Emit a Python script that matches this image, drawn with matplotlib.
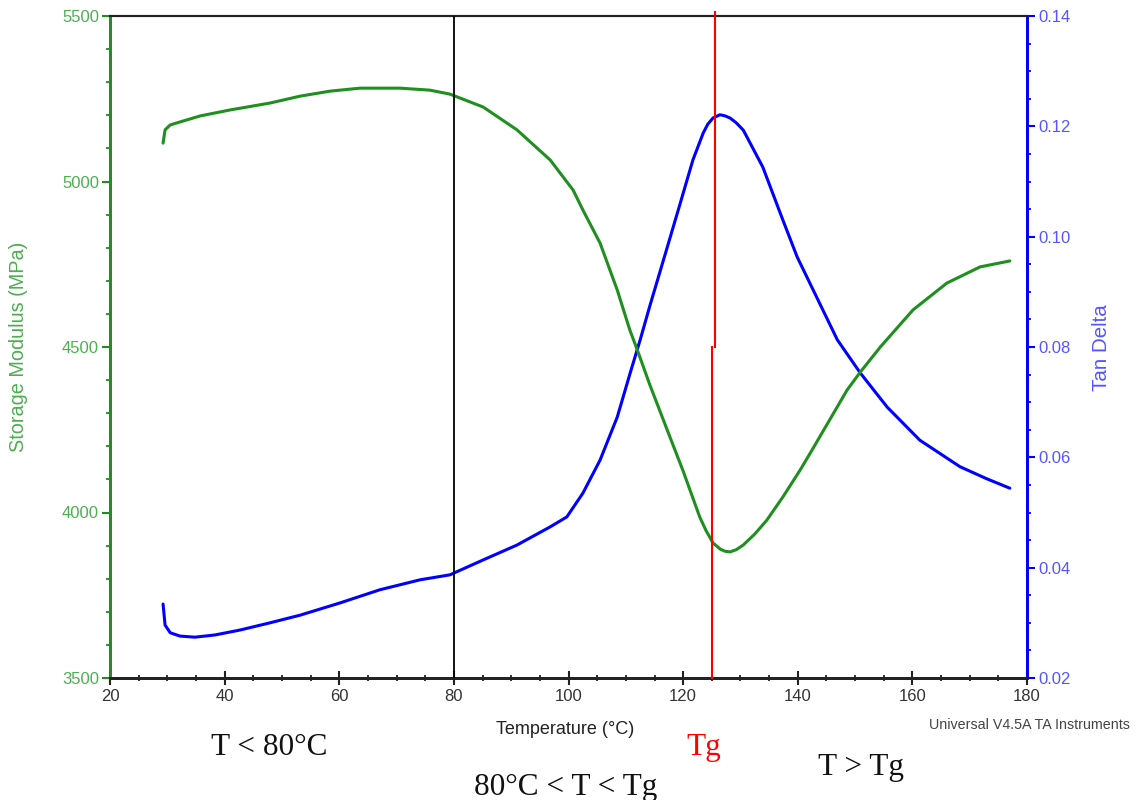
#!/usr/bin/env python3
"""DMA scan: storage modulus and tan delta against temperature."""

import matplotlib
matplotlib.use('Agg')
import matplotlib.pyplot as plt
import matplotlib.ticker as ticker

# ── Data ────────────────────────────────────────────────────────────────────────
MOD_T = [29.25, 29.6, 30.5, 35.7, 40.9, 47.9, 53.2, 58.4, 63.6, 70.6, 75.8, 79.3,
         85.1, 91.0, 96.8, 100.8, 102.5, 105.5, 108.5, 110.7, 112.0, 114.2,
         117.2, 120.0, 122.9, 124.0, 125.2, 126.5, 127.3, 128.2, 129.3, 130.5,
         132.5, 134.6, 137.4, 140.4, 142.7, 148.6, 150.9, 154.4, 160.1, 166.0,
         171.8, 177.0]
MOD_E = [5116, 5156, 5171, 5198, 5216, 5237, 5258, 5273, 5282, 5282, 5276, 5264,
         5225, 5156, 5065, 4974, 4914, 4814, 4672, 4551, 4491, 4385,
         4250, 4125, 3986, 3945, 3908, 3889, 3883, 3881, 3888, 3902,
         3935, 3977, 4047, 4128, 4195, 4370, 4424, 4500, 4612, 4693,
         4742, 4760]

TAN_T = [29.25, 29.6, 30.5, 32.2, 34.8, 38.3, 42.7, 47.9, 53.2, 60.1, 67.1, 74.1,
         79.3, 85.1, 91.0, 96.8, 99.7, 102.5, 105.5, 108.5, 110.7, 112.5, 114.2,
         117.2, 119.5, 121.7, 123.5, 124.3, 125.2, 126.4, 127.3, 128.2, 129.3,
         130.5, 133.9, 137.4, 139.9, 142.7, 146.9, 150.9, 155.6, 161.3, 168.3,
         173.0, 177.0]
TAN_D = [0.0334, 0.0296, 0.0282, 0.0276, 0.0274, 0.0278, 0.0287, 0.0300, 0.0314,
         0.0336, 0.0360, 0.0378, 0.0387, 0.0414, 0.0441, 0.0474, 0.0492, 0.0535,
         0.0595, 0.0673, 0.0751, 0.0813, 0.0875, 0.0980, 0.1061, 0.1139, 0.1188,
         0.1204, 0.1215, 0.1221, 0.1219, 0.1215, 0.1206, 0.1193, 0.1126, 0.1030,
         0.0963, 0.0903, 0.0813, 0.0753, 0.0691, 0.0631, 0.0583, 0.0561, 0.0544]

T_SPLIT = 80.0
TG_UPPER = 125.6      # red marker above the break
TG_LOWER = 125.05     # red marker below the break
TG_BREAK = 4500

# ── Style ───────────────────────────────────────────────────────────────────────
C_GREEN = '#1f8f1f'
C_GREEN_TXT = '#4caf50'
C_BLUE = '#0000ff'
C_BLUE_TXT = '#5555ff'
C_RED = '#ff0000'

plt.rcParams.update({
    'font.family': ['Liberation Sans', 'DejaVu Sans'],
    'font.size': 12,
})

fig = plt.figure(figsize=(11.38, 8.0), dpi=100)
ax = fig.add_axes([0.0967, 0.1525, 0.8058, 0.8275])
ax2 = ax.twinx()

ax.plot(MOD_T, MOD_E, color=C_GREEN, lw=2.2, zorder=3,
        solid_joinstyle='round', solid_capstyle='round')
ax2.plot(TAN_T, TAN_D, color=C_BLUE, lw=2.2, zorder=3,
         solid_joinstyle='round', solid_capstyle='round')

ax.set_xlim(20, 180)
ax.set_ylim(3500, 5500)
ax2.set_ylim(0.02, 0.14)

# split / Tg markers
ax.axvline(T_SPLIT, color='black', lw=1.3, zorder=4)
ax.plot([TG_UPPER, TG_UPPER], [TG_BREAK, 5512], color=C_RED, lw=1.5,
        clip_on=False, zorder=5)
ax.plot([TG_LOWER, TG_LOWER], [3500, TG_BREAK], color=C_RED, lw=1.5,
        clip_on=False, zorder=5)
ax.set_zorder(ax2.get_zorder() + 1)
ax.patch.set_visible(False)

# ── Axes decoration ─────────────────────────────────────────────────────────────
for a in (ax, ax2):
    a.spines['left'].set_color(C_GREEN)
    a.spines['left'].set_linewidth(2.0)
    a.spines['right'].set_color(C_BLUE)
    a.spines['right'].set_linewidth(2.0)
    a.spines['bottom'].set_color('#222222')
    a.spines['bottom'].set_linewidth(2.0)
    a.spines['top'].set_color('#222222')
    a.spines['top'].set_linewidth(1.5)

ax.xaxis.set_major_locator(ticker.MultipleLocator(20))
ax.xaxis.set_minor_locator(ticker.MultipleLocator(5))
ax.yaxis.set_major_locator(ticker.MultipleLocator(500))
ax.yaxis.set_minor_locator(ticker.MultipleLocator(100))
ax2.yaxis.set_major_locator(ticker.MultipleLocator(0.02))
ax2.yaxis.set_minor_locator(ticker.MultipleLocator(0.005))
ax2.yaxis.set_major_formatter(ticker.FormatStrFormatter('%.2f'))

ax.tick_params(axis='x', which='major', direction='inout', length=10, width=1.5,
               colors='#222222', labelcolor='#333333', labelsize=12, pad=3)
ax.tick_params(axis='x', which='minor', direction='inout', length=5, width=1.3,
               colors='#222222')
ax.tick_params(axis='y', which='major', direction='out', length=6, width=1.5,
               colors=C_GREEN, labelcolor=C_GREEN_TXT, labelsize=12, pad=2)
ax.tick_params(axis='y', which='minor', direction='out', length=3, width=1.3,
               colors=C_GREEN)
ax2.tick_params(axis='y', which='major', direction='out', length=6, width=1.5,
                colors=C_BLUE, labelcolor=C_BLUE_TXT, labelsize=12, pad=2)
ax2.tick_params(axis='y', which='minor', direction='out', length=3, width=1.3,
                colors=C_BLUE)

fig.text(0.016, 0.566, 'Storage Modulus (MPa)', rotation=90, color=C_GREEN_TXT,
         fontsize=14.3, ha='center', va='center')
fig.text(0.968, 0.565, 'Tan Delta', rotation=90, color=C_BLUE_TXT,
         fontsize=14.8, ha='center', va='center')
fig.text(0.497, 0.0875, 'Temperature (°C)', color='#222222', fontsize=13,
         ha='center', va='center')
fig.text(0.993, 0.094, 'Universal V4.5A TA Instruments', color='#444444',
         fontsize=10.3, ha='right', va='center')

serif = ['Liberation Serif', 'DejaVu Serif']
fig.text(0.237, 0.066, 'T < 80°C', family=serif, fontsize=22.5,
         color='#111111', ha='center', va='center')
fig.text(0.497, 0.016, '80°C < T < Tg', family=serif, fontsize=22.5,
         color='#111111', ha='center', va='center')
fig.text(0.618, 0.066, 'Tg', family=serif, fontsize=22.5,
         color=C_RED, ha='center', va='center')
fig.text(0.757, 0.041, 'T > Tg', family=serif, fontsize=22.5,
         color='#111111', ha='center', va='center')

fig.savefig('out.png', dpi=100)
